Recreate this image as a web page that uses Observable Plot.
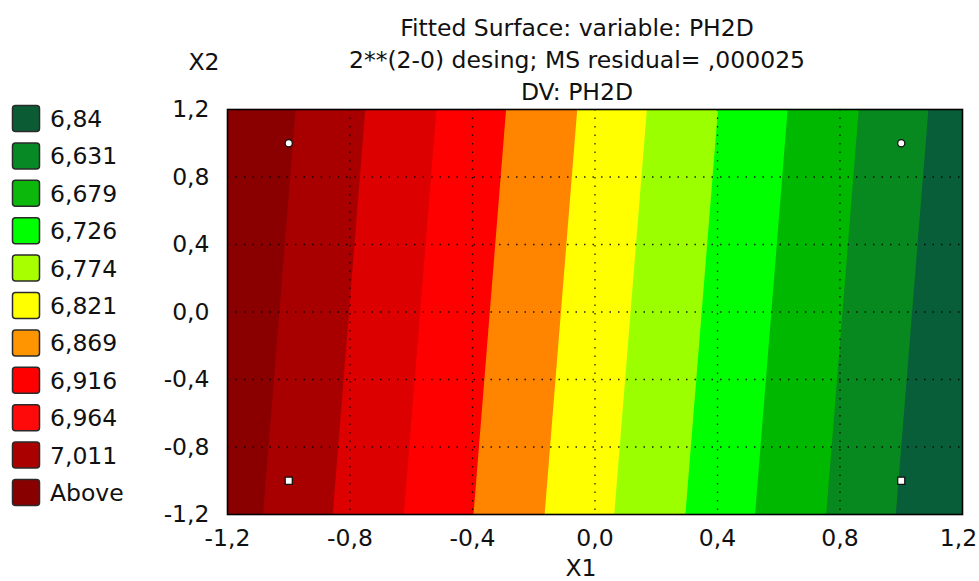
<!DOCTYPE html>
<html><head><meta charset="utf-8">
<script src="https://cdn.jsdelivr.net/npm/d3@7"></script>
<script src="https://cdn.jsdelivr.net/npm/@observablehq/plot@0.6"></script>
<style>
html,body{margin:0;padding:0;background:#fff;}
#wrap{position:relative;width:979px;height:581px;overflow:hidden;font-family:"DejaVu Sans",Verdana,sans-serif;}
#overlay{position:absolute;left:0;top:0;pointer-events:none;}
</style></head><body><div id="wrap"></div>
<script>
// ---- text ----
const titleLines = ["Fitted Surface: variable: PH2D", "2**(2-0) desing; MS residual= ,000025", "DV: PH2D"];
const xLabel = "X1";
const yLabel = "X2";
// ---- axes ----
const xTicks = [-1.2, -0.8, -0.4, 0, 0.4, 0.8, 1.2];
const yTicks = [-1.2, -0.8, -0.4, 0, 0.4, 0.8, 1.2];
const gridTicks = [-0.8, -0.4, 0, 0.4, 0.8];
// ---- contour levels (legend upper limits) ----
const levels = [6.584, 6.631, 6.679, 6.726, 6.774, 6.821, 6.869, 6.916, 6.964, 7.011];
const legendLabels = ["6,84", "6,631", "6,679", "6,726", "6,774", "6,821", "6,869", "6,916", "6,964", "7,011", "Above"];
// ---- fitted surface values read at the corners of the plotted region ----
const cornerX1 = [-1.2, 1.2, -1.2, 1.2];
const cornerX2 = [1.2, 1.2, -1.2, -1.2];
const cornerZ  = [7.057, 6.561, 7.035, 6.539];
// ---- design points ----
const designX1 = [-1, 1, -1, 1];
const designX2 = [1, 1, -1, -1];

const palette = ["#075e38", "#07891f", "#00b800", "#00ff00", "#9cff00", "#ffff00", "#ff8400", "#ff0000", "#dc0000", "#a80000", "#8a0000"];
const legendPalette = ["#0b5c34", "#078a26", "#0cb80c", "#00ff00", "#a8ff00", "#ffff00", "#ff9500", "#ff0000", "#ff0a0a", "#aa0000", "#880000"];

const surface = cornerZ.map((z, i) => ({x1: cornerX1[i], x2: cornerX2[i], z}));
const design = designX1.map((x, i) => ({x1: x, x2: designX2[i]}));
const fmt = d => d.toFixed(1).replace(".", ",").replace(/^-0,0$/, "0,0");

const W = 979, H = 581;
const FS = 23.5;
const xMax = xTicks[xTicks.length - 1];

const chart = Plot.plot({
  width: W, height: H,
  marginLeft: 227, marginRight: 17, marginTop: 109, marginBottom: 67,
  style: {fontFamily: '"DejaVu Sans", Verdana, sans-serif', fontSize: FS + "px", color: "#111", background: "#fff"},
  x: {domain: [-1.2, 1.2]},
  y: {domain: [-1.2, 1.2]},
  color: {type: "threshold", domain: levels, range: palette},
  marks: [
    Plot.contour(surface, {
      x: "x1", y: "x2", fill: "z",
      x1: -1.2, x2: 1.2, y1: -1.2, y2: 1.2,
      interpolate: "barycentric",
      thresholds: [6.3, ...levels],
      stroke: "none", pixelSize: 1
    }),
    Plot.gridX({ticks: gridTicks, stroke: "#000", strokeOpacity: 0.85, strokeWidth: 1.3, strokeDasharray: "1.5,7"}),
    Plot.gridY({ticks: gridTicks, stroke: "#000", strokeOpacity: 0.85, strokeWidth: 1.3, strokeDasharray: "1.5,7"}),
    Plot.frame({stroke: "#000", strokeWidth: 1.6}),
    Plot.dot(design.filter(d => d.x2 > 0), {x: "x1", y: "x2", r: 3.6, fill: "#fff", stroke: "#111", strokeWidth: 1.3}),
    Plot.dot(design.filter(d => d.x2 < 0), {x: "x1", y: "x2", r: 4, symbol: "square", fill: "#fff", stroke: "#111", strokeWidth: 1.3}),
    Plot.axisX({ticks: xTicks.filter(t => t !== xMax), tickFormat: fmt, tickSize: 0, tickPadding: 15, label: null}),
    Plot.axisX({ticks: [xMax], tickFormat: fmt, tickSize: 0, tickPadding: 15, label: null, dx: -4}),
    Plot.axisY({ticks: yTicks, tickFormat: fmt, tickSize: 0, tickPadding: 18, label: null})
  ]
});

const wrap = document.getElementById("wrap");
wrap.appendChild(chart);

// overlay: title, axis names, legend
const ov = d3.select(wrap).append("svg").attr("id", "overlay")
  .attr("width", W).attr("height", H)
  .style("font-family", '"DejaVu Sans", Verdana, sans-serif')
  .style("font-size", FS + "px").attr("fill", "#111");

ov.selectAll("text.title").data(titleLines).join("text")
  .attr("class", "title")
  .attr("x", 577).attr("y", (d, i) => 36 + i * 32)
  .attr("text-anchor", "middle").text(d => d);

ov.append("text").attr("x", 204).attr("y", 70).attr("text-anchor", "middle").text(yLabel);
ov.append("text").attr("x", 581).attr("y", 576).attr("text-anchor", "middle").text(xLabel);

const lg = ov.append("g");
legendLabels.forEach((lab, i) => {
  const cy = 118.5 + i * 37.4;
  lg.append("rect").attr("x", 12.5).attr("y", cy - 13).attr("width", 27).attr("height", 26)
    .attr("rx", 3).attr("fill", legendPalette[i]).attr("stroke", "#2a2a2a").attr("stroke-width", 1.5);
  lg.append("text").attr("x", 50).attr("y", cy + 8.5).text(lab);
});
</script>
</body></html>
